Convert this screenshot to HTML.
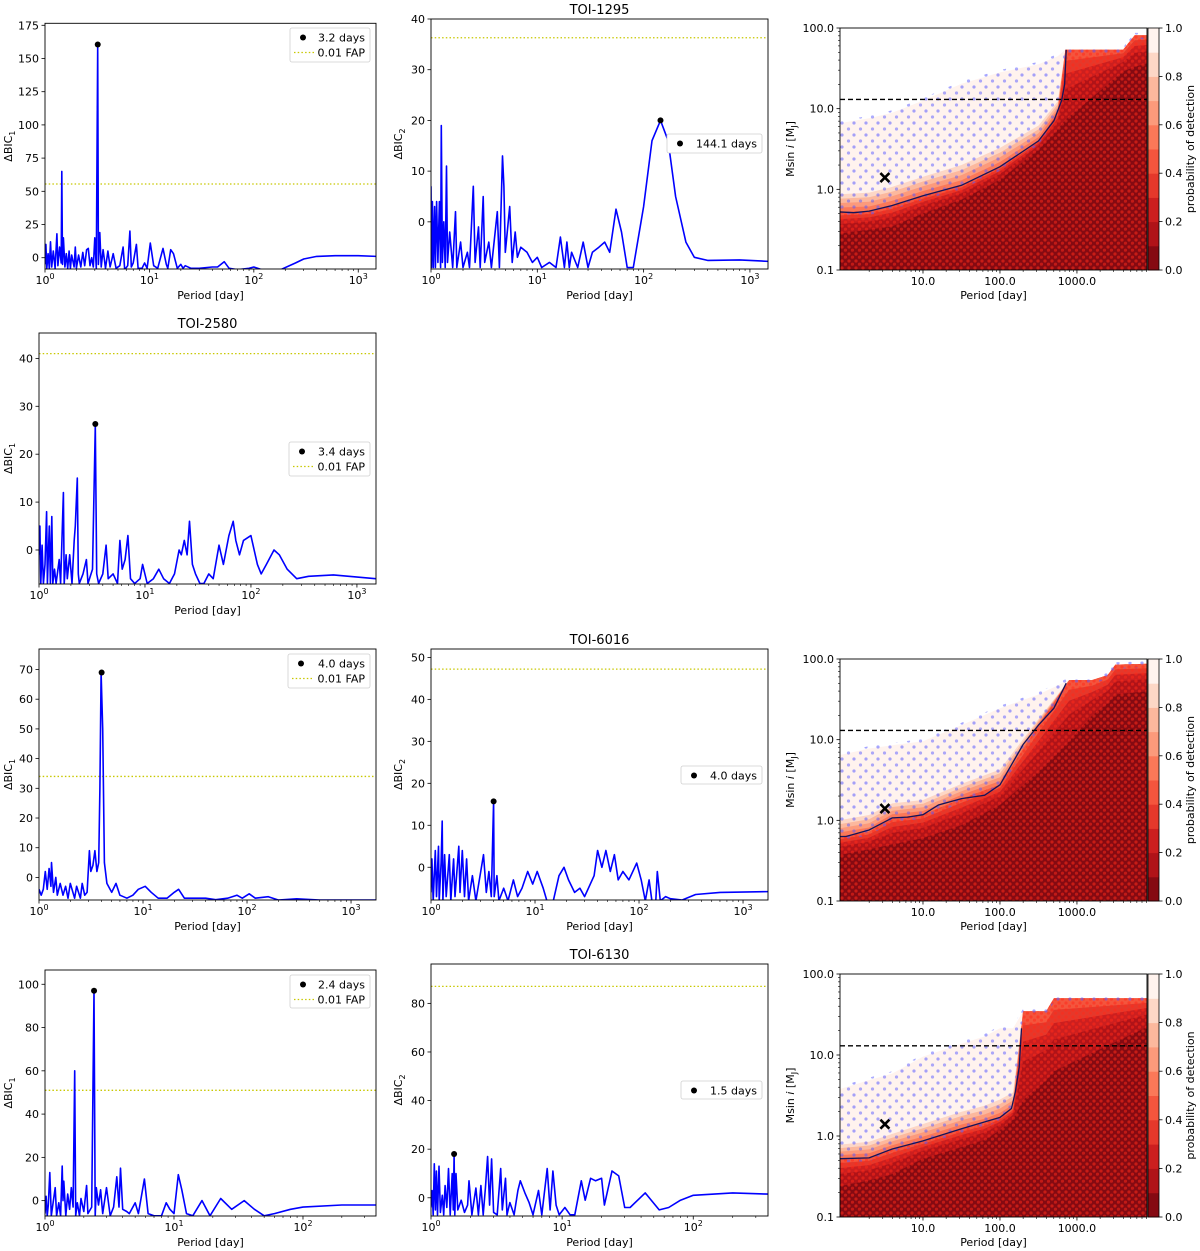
<!DOCTYPE html>
<html><head><meta charset="utf-8"><style>
html,body{margin:0;padding:0;background:#fff;}
svg{display:block;font-family:"DejaVu Sans","Liberation Sans",sans-serif;}
</style></head><body>
<svg id="fig" width="1200" height="1251" viewBox="0 0 1200 1251" xmlns="http://www.w3.org/2000/svg">
<defs>
<pattern id="redDots" width="7" height="7" patternUnits="userSpaceOnUse"><circle cx="2" cy="2" r="1.6" fill="#ff2a1a" opacity="0.55"/><circle cx="5.5" cy="5.2" r="1.6" fill="#ff2a1a" opacity="0.5"/></pattern>
<pattern id="blueDots" width="12" height="12" patternUnits="userSpaceOnUse"><circle cx="2" cy="3" r="1.6" fill="#5a5aff" opacity="0.55"/><circle cx="8.5" cy="9" r="1.6" fill="#5a5aff" opacity="0.5"/></pattern>
</defs>
</svg>
<script>
// ---------- periodogram data: [period_day, deltaBIC] ----------
const toi1295_bic1 = [[1,-5],[1.02,10],[1.04,-8],[1.07,3],[1.1,-8],[1.13,12],[1.16,-7],[1.2,5],[1.25,-8],[1.3,18],[1.33,-6],[1.38,8],[1.43,-4],[1.45,65],[1.47,-5],[1.5,15],[1.55,-7],[1.6,3],[1.65,-8],[1.7,5],[1.75,-8],[1.8,2],[1.9,-7],[1.95,8],[2.0,-8],[2.1,2],[2.2,-7],[2.3,4],[2.4,-6],[2.5,6],[2.6,7],[2.7,-6],[2.8,0],[2.9,-7],[3.0,15],[3.1,-8],[3.2,160],[3.25,-5],[3.35,19],[3.45,-7],[3.6,6],[3.8,-8],[4.0,5],[4.2,-7],[4.5,3],[4.8,-8],[5.2,-6],[5.6,8],[5.8,-9],[6.2,-6],[6.5,20],[6.7,-7],[7.0,-4],[7.5,10],[7.8,-8],[8.5,-8],[9.0,-4],[9.5,-8],[10.2,11],[11,-6],[12,-8],[13.5,7],[14.5,-5],[15,-8],[16,6],[17,3],[18.5,-8],[20,-5],[21,-8],[22,-6],[25,-8],[30,-8],[40,-7],[45,-7],[52,-3],[58,-8],[70,-9],[90,-8],[100,-7],[120,-9],[180,-9],[250,-4],[300,-1],[400,1],[600,1.5],[1000,1.5],[1500,1]];
const toi1295_bic2 = [[1,7],[1.01,-9],[1.03,4],[1.05,-9],[1.08,3],[1.1,-9],[1.13,4],[1.16,-8],[1.2,4],[1.23,-9],[1.25,19],[1.28,-8],[1.32,0],[1.36,-9],[1.4,11],[1.43,-8],[1.5,-2],[1.6,-9],[1.7,2],[1.75,-9],[1.9,-4],[2.0,-9],[2.2,-6],[2.3,-9],[2.5,7],[2.6,-8],[2.8,-1],[2.9,-9],[3.1,5],[3.2,-8],[3.5,-4],[3.7,-9],[4.2,2],[4.4,-9],[4.7,13],[4.85,7],[5.0,-6],[5.5,3],[5.8,-8],[6.2,-2],[6.5,-7],[7,-5],[8,-6],[9,-8],[10,-7],[11,-9],[13,-8],[15,-9],[16.5,-3],[18,-9],[19,-4],[20,-9],[21,-6],[24,-9],[27,-4],[30,-9],[33,-6],[38,-5],[43,-4],[48,-6],[55,2.5],[62,-2],[70,-9],[80,-9],[100,3],[120,16],[144,20],[170,16],[200,5],[250,-4],[300,-7],[400,-7.6],[800,-7.5],[1500,-7.8]];
const toi2580_bic1 = [[1,-1],[1.02,5],[1.04,-7],[1.07,1],[1.1,-7],[1.14,-3],[1.18,8],[1.2,-7],[1.25,5],[1.28,-7],[1.32,7],[1.35,-7],[1.4,-4],[1.45,-7],[1.55,-2],[1.6,-7],[1.7,12],[1.73,-7],[1.8,-1],[1.85,-6],[1.95,-1],[2.05,-7],[2.15,2],[2.2,5],[2.3,15],[2.35,-5],[2.4,-7],[2.6,-5],[2.8,-2],[2.9,-7],[3.2,-4],[3.4,26],[3.5,-5],[3.65,-7],[4.0,-5],[4.3,1],[4.5,-6],[5.0,-5],[5.5,-7],[5.8,2],[6.1,-4],[6.5,-2],[6.9,3],[7.3,-6],[8,-7],[9,-6],[9.5,-3],[10.5,-7],[12,-6],[13.5,-4],[15,-6],[17,-7],[19,-5],[21,0],[22,-1],[23.5,2],[25,-1],[26.3,6],[28,-3],[30,-5],[33,-7],[36,-7],[40,-5],[44,-6],[50,1],[55,-3],[62,3],[68,6],[72,2],[78,-1],[85,2],[100,3],[115,-3],[125,-5],[140,-3],[165,0],[185,-1],[220,-4],[270,-6],[350,-5.5],[600,-5.2],[1500,-6]];
const toi6016_bic1 = [[1,-4],[1.05,-6],[1.1,-4],[1.15,2],[1.2,-4],[1.25,3],[1.3,-3],[1.32,5],[1.38,-5],[1.45,0],[1.5,-6],[1.6,-2],[1.7,-6],[1.8,-3],[1.9,-7],[2.0,-2],[2.2,-7],[2.3,-3],[2.5,-7],[2.6,-2],[2.75,-6],[2.9,-5],[3.05,9],[3.15,2],[3.3,4],[3.45,9],[3.6,2],[3.75,5],[3.85,30],[3.95,69],[4.1,50],[4.25,5],[4.5,-2],[5,-5],[5.5,-2],[6,-6],[7,-7],[8,-6],[9,-4],[10.5,-3],[12,-5],[14,-7],[17,-7],[20,-5],[22,-4],[25,-7],[30,-7],[40,-7],[50,-7.5],[65,-7],[80,-6],[90,-7],[105,-5.5],[120,-7],[160,-6.5],[200,-7.6],[300,-7.2],[500,-7.6],[1800,-7.6]];
const toi6016_bic2 = [[1,-6],[1.02,2],[1.05,-8],[1.1,4],[1.13,-7],[1.18,5],[1.2,-8],[1.25,1],[1.28,11],[1.3,-8],[1.35,3],[1.4,-7],[1.5,3],[1.55,-8],[1.65,2],[1.7,-7],[1.85,5],[1.9,-6],[2.0,4],[2.1,-7],[2.2,2],[2.3,-8],[2.5,-2],[2.7,-8],[3.2,3],[3.4,-6],[3.6,-1],[3.8,-7],[4.0,15.7],[4.05,-7],[4.3,-2],[4.5,-8],[5,-5],[5.5,-8],[6.2,-3],[6.8,-7],[7.5,-5],[8.5,-1],[9.5,-4],[10.5,-1],[12,-5],[13,-8],[15,-8],[17,-2],[19,0],[21,-3],[24,-6],[27,-5],[30,-7],[34,-4],[37,-2],[40,4],[44,0],[48,4],[53,-1],[58,3],[63,-3],[70,-1],[80,-3],[95,1],[105,-3],[115,-8],[125,-3],[133,-8],[145,-8],[150,-1],[160,-8],[180,-7],[200,-7.5],[260,-7.8],[350,-6.5],[600,-6],[1800,-5.8]];
const toi6130_bic1 = [[1,-6],[1.02,2],[1.04,-7],[1.06,-2],[1.09,13],[1.12,-7],[1.2,6],[1.23,-7],[1.28,-1],[1.32,-7],[1.36,16],[1.38,0],[1.4,9],[1.45,-7],[1.5,3],[1.55,-4],[1.6,6],[1.65,-3],[1.7,60],[1.73,-7],[1.78,-1],[1.85,-7],[1.9,1],[2.0,-5],[2.1,7],[2.15,-6],[2.3,-3],[2.4,97],[2.45,-7],[2.5,6],[2.6,-2],[2.7,5],[2.8,-6],[3.0,6],[3.2,-7],[3.4,-3],[3.6,11],[3.75,-3],[3.85,15],[4.0,-4],[4.3,-5],[4.5,-6],[5,-1],[5.3,-6],[5.9,10],[6.3,-6],[7,-7],[8,-7],[8.7,-1],[9.3,-4],[10,-6],[10.8,12],[11.5,5],[12.5,-6],[14,-7],[16.5,0],[19,-7],[23,1],[28,-4],[35,0],[42,-4],[50,-7],[60,-6],[80,-4],[100,-3],[200,-2],[370,-2]];
const toi6130_bic2 = [[1,-4],[1.02,3],[1.04,-7],[1.06,14],[1.08,-5],[1.1,11],[1.12,-7],[1.15,13],[1.18,-6],[1.22,1],[1.25,-7],[1.28,5],[1.32,-4],[1.36,12],[1.4,-7],[1.45,10],[1.48,-5],[1.5,18],[1.52,-7],[1.55,10],[1.6,-5],[1.7,-1],[1.8,-6],[1.9,-3],[1.95,7],[2.05,-7],[2.2,4],[2.3,-7],[2.4,5],[2.5,-7],[2.6,4],[2.7,17],[2.8,-3],[2.9,16],[3.0,-6],[3.2,-7],[3.4,12],[3.5,-5],[3.7,8],[3.8,-7],[4.0,-2],[4.3,-7],[4.6,3],[4.8,7],[5.2,2],[5.6,-2],[6,-7],[6.6,3],[7,-7],[7.7,12],[8.1,-5],[8.5,11],[9,-3],[9.5,-7],[10.5,-4],[11.5,-7],[12.5,-7],[14,7],[15,-1],[16.5,8],[18,7],[20,8],[21,-3],[24,11],[27,9],[30,-4],[33,-4],[43,2],[55,-5],[65,-4],[80,-1],[100,1],[200,2],[370,1.5]];
const fapLevels = [55.5, 36.3, 41, 34, 47.2, 51, 87];
const peakPeriods = [3.2, 144.1, 3.4, 4.0, 4.0, 2.4, 1.5];
const peakValues = [160.5, 20, 26.3, 69, 15.7, 97, 18];
const peakLabels = ["3.2 days","144.1 days","3.4 days","4.0 days","4.0 days","2.4 days","1.5 days"];

// ---------- detection-map data (log10 period, log10 mass) ----------
const det1_grid = [-0.08,0.3,0.6,1.0,1.5,2.0,2.5,2.75,2.85,3.6,3.75,3.92];
const det1_env  = [0.82,0.88,0.95,1.1,1.31,1.45,1.55,1.65,1.73,1.73,1.91,1.91];
const det1_dark = [-0.55,-0.5,-0.46,-0.30,-0.13,0.12,0.49,0.74,0.86,1.46,1.52,1.56];
const det1_mid  = [-0.28,-0.27,-0.2,-0.08,0.05,0.28,0.6,0.95,1.73,1.73,1.91,1.91];
const det1_lineP = [-0.08,0.1,0.3,0.6,1.0,1.5,2.0,2.5,2.7,2.8,2.84,2.86];
const det1_lineM = [-0.28,-0.29,-0.27,-0.2,-0.08,0.05,0.28,0.6,0.85,1.1,1.3,1.73];
const det3_grid = [-0.08,0.3,0.6,1.0,1.5,2.0,2.5,2.9,3.2,3.4,3.5,3.92];
const det3_env  = [0.81,0.89,0.93,0.98,1.18,1.39,1.56,1.74,1.74,1.8,1.93,1.94];
const det3_dark = [-0.43,-0.36,-0.30,-0.22,-0.06,0.19,0.6,0.98,1.3,1.45,1.56,1.6];
const det3_mid  = [-0.2,-0.14,0.03,0.07,0.27,0.44,1.18,1.74,1.74,1.8,1.93,1.94];
const det3_lineP = [-0.08,0.0,0.3,0.6,0.8,1.0,1.2,1.5,1.8,2.0,2.3,2.5,2.7,2.86];
const det3_lineM = [-0.2,-0.2,-0.12,0.03,0.04,0.07,0.19,0.27,0.31,0.44,0.94,1.18,1.39,1.70];
const det4_grid = [-0.08,0.3,0.6,1.0,1.5,1.8,2.0,2.17,2.3,2.6,2.7,3.92];
const det4_env  = [0.58,0.69,0.77,0.98,1.14,1.23,1.33,1.33,1.54,1.54,1.7,1.7];
const det4_dark = [-0.62,-0.55,-0.47,-0.28,-0.14,-0.05,0.07,0.2,0.44,0.69,0.8,1.35];
const det4_mid  = [-0.28,-0.26,-0.16,-0.06,0.09,0.16,0.23,0.34,1.54,1.54,1.7,1.7];
const det4_lineP = [-0.08,0.3,0.6,1.0,1.5,2.0,2.15,2.2,2.25,2.28];
const det4_lineM = [-0.28,-0.27,-0.16,-0.06,0.09,0.23,0.34,0.55,0.85,1.33];
const planetP = 3.2, planetM = 1.4, deuteriumM = 13;
const bandColors = ["#850a12","#b01318","#cc1f1f","#e5382b","#f4553d","#fb7858","#fc9a7b","#fcb89d","#fdd7c6","#fff3ee"];
const cbTicks = ["0.0","0.2","0.4","0.6","0.8","1.0"];

const NS="http://www.w3.org/2000/svg";
const svg=document.getElementById('fig');
function el(tag,attrs,parent,text){const e=document.createElementNS(NS,tag);for(const k in attrs)e.setAttribute(k,attrs[k]);if(text!==undefined)e.textContent=text;(parent||svg).appendChild(e);return e;}
let clipId=0;

function periodogram(c){
  const g=el('g',{});
  
  
  const X=p=>c.x0+(Math.log10(p)-0)/(c.lmax)*(c.x1-c.x0);
  const Y=v=>c.y1-(v-c.vmin)/(c.vmax-c.vmin)*(c.y1-c.y0);
  const cid='clip'+(clipId++);
  const cp=el('clipPath',{id:cid},g);el('rect',{x:c.x0,y:c.y0,width:c.x1-c.x0,height:c.y1-c.y0},cp);
  const fap=el('line',{x1:c.x0,x2:c.x1,y1:Y(c.fap),y2:Y(c.fap),stroke:'#c8c800','stroke-width':1.3,'stroke-dasharray':'1.5,2.2'},g);
  
  
  const d=c.data.map((p,i)=>(i?'L':'M')+X(p[0]).toFixed(1)+','+Y(p[1]).toFixed(1)).join('');
  const path=el('path',{d:d,fill:'none',stroke:'#0000ff','stroke-width':1.6,'stroke-linejoin':'round','clip-path':'url(#'+cid+')'},g);
  
  
  const pk=el('circle',{cx:X(c.peakP),cy:Y(c.peakV),r:3,fill:'#000'},g);
  
  
  el('rect',{x:c.x0,y:c.y0,width:c.x1-c.x0,height:c.y1-c.y0,fill:'none',stroke:'#000','stroke-width':0.9},g);
  for(let dec=0;dec<=Math.floor(c.lmax);dec++){
    const x=X(Math.pow(10,dec));
    el('line',{x1:x,x2:x,y1:c.y1,y2:c.y1+3.5,stroke:'#000','stroke-width':0.8},g);
    const t=el('text',{x:x,y:c.y1+15,'font-size':11,'text-anchor':'middle'},g);
    
    
    el('tspan',{},t,'10');el('tspan',{dy:-5,'font-size':8},t,String(dec));
    for(let k=2;k<10;k++){const p=k*Math.pow(10,dec);if(Math.log10(p)>c.lmax)break;const xm=X(p);el('line',{x1:xm,x2:xm,y1:c.y1,y2:c.y1+2,stroke:'#000','stroke-width':0.6},g);}
  }
  c.yticks.forEach(v=>{const y=Y(v);el('line',{x1:c.x0-3.5,x2:c.x0,y1:y,y2:y,stroke:'#000','stroke-width':0.8},g);
    const t=el('text',{x:c.x0-6,y:y+4,'font-size':11,'text-anchor':'end'},g,String(v));
    
    });
  const xl=el('text',{x:(c.x0+c.x1)/2,y:c.y1+30,'font-size':11,'text-anchor':'middle'},g,'Period [day]');
  
  
  const yl=el('text',{transform:`translate(${c.ylx},${(c.y0+c.y1)/2}) rotate(-90)`,'font-size':11,'text-anchor':'middle'},g);
  
  
  el('tspan',{},yl,'ΔBIC');el('tspan',{dy:3,'font-size':8},yl,c.sub);
  if(c.title){const tt=el('text',{x:(c.x0+c.x1)/2,y:c.y0-5,'font-size':13,'text-anchor':'middle'},g,c.title);
    
    }
  const L=c.leg;const lg=el('g',{},g);
  
  
  el('rect',{x:L[0],y:L[1],width:L[2]-L[0],height:L[3]-L[1],rx:2,fill:'#fff',stroke:'#d0d0d0','stroke-width':0.8},lg);
  el('circle',{cx:L[0]+13,cy:L[1]+9.5,r:3,fill:'#000'},lg);
  el('text',{x:L[2]-5,y:L[1]+13.5,'font-size':11,'text-anchor':'end'},lg,c.peakLabel);
  if(c.showFap){el('line',{x1:L[0]+4,x2:L[0]+24,y1:L[1]+24.5,y2:L[1]+24.5,stroke:'#c8c800','stroke-width':1.3,'stroke-dasharray':'1.5,2.2'},lg);
    el('text',{x:L[2]-5,y:L[1]+28.5,'font-size':11,'text-anchor':'end'},lg,'0.01 FAP');}
}

periodogram({name:'toi1295-bic1-panel',x0:45,x1:376,y0:23.3,y1:269,lmax:3.17,vmin:-8.5,vmax:176.5,yticks:[0,25,50,75,100,125,150,175],sub:'1',ylx:12,data:toi1295_bic1,fap:fapLevels[0],peakP:peakPeriods[0],peakV:peakValues[0],peakLabel:peakLabels[0],leg:[290,28,370,62],showFap:true});
periodogram({name:'toi1295-bic2-panel',x0:431,x1:768,y0:19,y1:269,lmax:3.17,vmin:-9.3,vmax:40,yticks:[0,10,20,30,40],sub:'2',ylx:402,data:toi1295_bic2,fap:fapLevels[1],peakP:peakPeriods[1],peakV:peakValues[1],peakLabel:peakLabels[1],leg:[667,134,762,153],showFap:false,title:'TOI-1295'});
periodogram({name:'toi2580-bic1-panel',x0:39,x1:376,y0:333,y1:584,lmax:3.18,vmin:-7.1,vmax:45.3,yticks:[0,10,20,30,40],sub:'1',ylx:12,data:toi2580_bic1,fap:fapLevels[2],peakP:peakPeriods[2],peakV:peakValues[2],peakLabel:peakLabels[2],leg:[289,442,370,476],showFap:true,title:'TOI-2580'});
periodogram({name:'toi6016-bic1-panel',x0:39,x1:376,y0:649,y1:900,lmax:3.24,vmin:-7.6,vmax:76.9,yticks:[0,10,20,30,40,50,60,70],sub:'1',ylx:12,data:toi6016_bic1,fap:fapLevels[3],peakP:peakPeriods[3],peakV:peakValues[3],peakLabel:peakLabels[3],leg:[288,654,370,688],showFap:true});
periodogram({name:'toi6016-bic2-panel',x0:431,x1:768,y0:649,y1:900,lmax:3.24,vmin:-7.8,vmax:52,yticks:[0,10,20,30,40,50],sub:'2',ylx:402,data:toi6016_bic2,fap:fapLevels[4],peakP:peakPeriods[4],peakV:peakValues[4],peakLabel:peakLabels[4],leg:[681,766,762,784],showFap:false,title:'TOI-6016'});
periodogram({name:'toi6130-bic1-panel',x0:45,x1:376,y0:970,y1:1216,lmax:2.566,vmin:-7.1,vmax:106.6,yticks:[0,20,40,60,80,100],sub:'1',ylx:12,data:toi6130_bic1,fap:fapLevels[5],peakP:peakPeriods[5],peakV:peakValues[5],peakLabel:peakLabels[5],leg:[290,975,370,1008],showFap:true});
periodogram({name:'toi6130-bic2-panel',x0:431,x1:768,y0:964,y1:1216,lmax:2.57,vmin:-7.5,vmax:96.2,yticks:[0,20,40,60,80],sub:'2',ylx:402,data:toi6130_bic2,fap:fapLevels[6],peakP:peakPeriods[6],peakV:peakValues[6],peakLabel:peakLabels[6],leg:[681,1081,762,1099],showFap:false,title:'TOI-6130'});

function detection(c){
  const g=el('g',{});
  
  
  const lmin=-0.078,lmax=3.91,mmin=-1,mmax=2;
  const X=l=>c.x0+(l-lmin)/(lmax-lmin)*(c.x1-c.x0);
  const Y=m=>c.y1-(m-mmin)/(mmax-mmin)*(c.y1-c.y0);
  const cid='clip'+(clipId++);
  const cp=el('clipPath',{id:cid},g);el('rect',{x:c.x0,y:c.y0,width:c.x1-c.x0,height:c.y1-c.y0},cp);
  const cg=el('g',{'clip-path':'url(#'+cid+')'},g);
  const G=c.grid;
  const bnd=l=>G.map((p,i)=>{const dk=c.dark[i],md=c.mid[i],ev=c.env[i];let b;
    if(l<=0.5)b=dk+(md-dk)*Math.pow((l-0.1)/0.4,0.6);else b=md+Math.min(0.35,(ev-md)*0.2)*(l-0.5)/0.4;return Math.min(b,ev);});
  const poly=(arr)=>{let d='M'+X(G[0])+','+(c.y1+2);G.forEach((p,i)=>{d+='L'+X(p).toFixed(1)+','+Y(arr[i]).toFixed(1);});d+='L'+X(G[G.length-1])+','+(c.y1+2)+'Z';return d;};
  const e0=el('path',{d:poly(c.env),fill:bandColors[9]},cg);
  
  
  for(let k=9;k>=1;k--){const lev=k/10;const b=el('path',{d:poly(bnd(lev)),fill:bandColors[k-1]},cg);
    
    }
  const mid=bnd(0.5);
  el('path',{d:poly(mid),fill:'url(#redDots)'},cg);
  let db='M'+X(G[0])+','+Y(mid[0]);G.forEach((p,i)=>{db+='L'+X(p)+','+Y(c.env[i]+0.03);});
  for(let i=G.length-1;i>=0;i--)db+='L'+X(G[i])+','+Y(mid[i]-0.05);db+='Z';
  const bd=el('path',{d:db,fill:'url(#blueDots)'},cg);
  
  
  const ln=el('path',{d:c.lineP.map((p,i)=>(i?'L':'M')+X(p).toFixed(1)+','+Y(c.lineM[i]).toFixed(1)).join(''),fill:'none',stroke:'#14145a','stroke-width':1.3},cg);
  
  
  const dl=el('line',{x1:c.x0,x2:c.x1,y1:Y(Math.log10(deuteriumM)),y2:Y(Math.log10(deuteriumM)),stroke:'#000','stroke-width':1.4,'stroke-dasharray':'5,3'},cg);
  
  
  const px=X(Math.log10(planetP)),py=Y(Math.log10(planetM));
  const xm=el('path',{d:`M${px-4.5},${py-4.5}L${px+4.5},${py+4.5}M${px-4.5},${py+4.5}L${px+4.5},${py-4.5}`,stroke:'#000','stroke-width':2.6},g);
  
  
  el('rect',{x:c.x0,y:c.y0,width:c.x1-c.x0,height:c.y1-c.y0,fill:'none',stroke:'#000','stroke-width':0.9},g);
  [1,2,3].forEach(dec=>{const x=X(dec);el('line',{x1:x,x2:x,y1:c.y1,y2:c.y1+3.5,stroke:'#000','stroke-width':0.8},g);
    const t=el('text',{x:x,y:c.y1+15,'font-size':11,'text-anchor':'middle'},g,(Math.pow(10,dec)).toFixed(1));
    
    });
  for(let dec=0;dec<=3;dec++)for(let k=2;k<10;k++){const l=dec+Math.log10(k);if(l>lmax)continue;const x=X(l);el('line',{x1:x,x2:x,y1:c.y1,y2:c.y1+2,stroke:'#000','stroke-width':0.6},g);}
  ['0.1','1.0','10.0','100.0'].forEach((s,i)=>{const y=Y(i-1);el('line',{x1:c.x0-3.5,x2:c.x0,y1:y,y2:y,stroke:'#000','stroke-width':0.8},g);
    const t=el('text',{x:c.x0-6,y:y+4,'font-size':11,'text-anchor':'end'},g,s);
    
    });
  for(let dec=-1;dec<2;dec++)for(let k=2;k<10;k++){const y=Y(dec+Math.log10(k));el('line',{x1:c.x0-2,x2:c.x0,y1:y,y2:y,stroke:'#000','stroke-width':0.6},g);}
  const xl=el('text',{x:(c.x0+c.x1)/2,y:c.y1+29,'font-size':11,'text-anchor':'middle'},g,'Period [day]');
  
  
  const yl=el('text',{transform:`translate(794,${(c.y0+c.y1)/2}) rotate(-90)`,'font-size':11,'text-anchor':'middle'},g);
  
  
  el('tspan',{},yl,'Msin ');el('tspan',{'font-style':'italic'},yl,'i');el('tspan',{},yl,' [M');el('tspan',{dy:3,'font-size':8},yl,'J');el('tspan',{dy:-3},yl,']');
  const cb=el('g',{},g);
  
  
  const h=(c.y1-c.y0)/10;
  bandColors.forEach((col,i)=>{el('rect',{x:1148,y:c.y1-(i+1)*h,width:11,height:h+0.5,fill:col},cb);});
  el('rect',{x:1148,y:c.y0,width:11,height:c.y1-c.y0,fill:'none',stroke:'#000','stroke-width':0.8},cb);
  cbTicks.forEach((s,i)=>{const y=c.y1-i*2*h;el('line',{x1:1159,x2:1162.5,y1:y,y2:y,stroke:'#000','stroke-width':0.8},cb);
    el('text',{x:1165,y:y+4,'font-size':11},cb,s);});
  const ct=el('text',{transform:`translate(1194,${(c.y0+c.y1)/2}) rotate(-90)`,'font-size':11,'text-anchor':'middle'},cb,'probability of detection');
  
  
}
detection({name:'toi1295-detection-map',x0:840,x1:1147,y0:28,y1:270,grid:det1_grid,env:det1_env,dark:det1_dark,mid:det1_mid,lineP:det1_lineP,lineM:det1_lineM});
detection({name:'toi6016-detection-map',x0:840,x1:1147,y0:659,y1:901,grid:det3_grid,env:det3_env,dark:det3_dark,mid:det3_mid,lineP:det3_lineP,lineM:det3_lineM});
detection({name:'toi6130-detection-map',x0:840,x1:1147,y0:974,y1:1217,grid:det4_grid,env:det4_env,dark:det4_dark,mid:det4_mid,lineP:det4_lineP,lineM:det4_lineM});
</script>
</body></html>
